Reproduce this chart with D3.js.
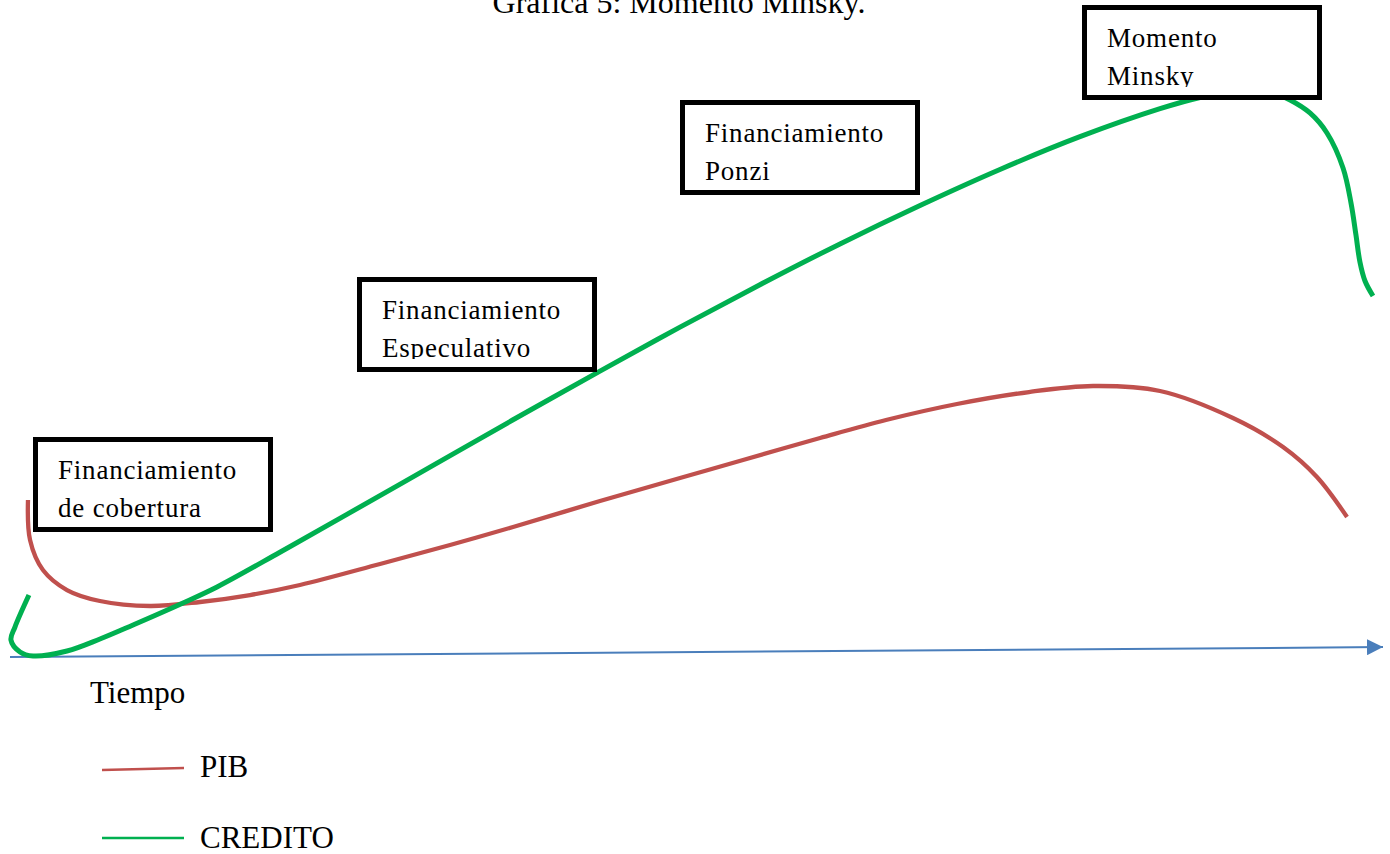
<!DOCTYPE html>
<html>
<head>
<meta charset="utf-8">
<script src="https://cdn.jsdelivr.net/npm/d3@7"></script>
<style>
  html, body { margin: 0; padding: 0; background: #ffffff; }
  svg { display: block; }
  text { font-family: "Liberation Serif", "Times New Roman", serif; fill: #000; }
</style>
</head>
<body>
<svg id="chart" width="1390" height="854"></svg>
<script>
// Time runs 0..100 along the axis; level 0..100 is an abstract index.
const creditoT = [1.38, 0.36, 0.07, 0.73, 1.68, 4.15, 6.55, 8.96, 12.60, 15.08, 19.66, 24.54, 30.59, 36.64, 42.97, 48.80, 54.62, 60.45, 66.28, 72.10, 77.93, 83.76, 86.67, 89.58, 91.77, 93.23, 94.68, 95.92, 97.09, 97.67, 98.03, 98.32, 98.69, 99.27];
const creditoV = [11.27, 5.45, 3.09, 0.91, 0.18, 1.09, 3.27, 5.82, 9.82, 12.73, 19.04, 25.93, 34.53, 43.13, 51.98, 59.98, 67.69, 75.11, 82.09, 88.64, 94.60, 99.69, 101.73, 102.96, 102.73, 101.27, 98.91, 95.27, 88.91, 82.55, 76.73, 71.82, 68.36, 65.64];

const pibT = [1.31, 1.46, 2.40, 4.15, 6.55, 10.20, 13.84, 17.48, 21.12, 26.95, 32.05, 36.64, 42.97, 48.80, 53.39, 59.00, 63.80, 68.97, 74.22, 78.88, 83.76, 89.07, 92.72, 95.19, 97.38];
const pibV = [28.55, 21.27, 15.82, 12.18, 10.18, 9.27, 10.00, 11.27, 13.09, 16.91, 20.36, 23.64, 28.36, 32.55, 35.82, 39.82, 43.09, 46.00, 48.18, 49.27, 48.36, 43.45, 38.18, 32.73, 25.45];

// Time axis: starts at the origin and rises very slightly to the arrow tip
const axisT = [0, 100];
const axisV = [0, 1.8];

// Stage labels (two lines each)
const stageLines = [
  ["Financiamiento", "de cobertura"],
  ["Financiamiento", "Especulativo"],
  ["Financiamiento", "Ponzi"],
  ["Momento", "Minsky"]
];

const seriesNames = ["PIB", "CREDITO"];
const seriesColors = ["#C0504D", "#00B050"];
const axisLabel = "Tiempo";
const titleText = "Gráfica 5: Momento Minsky.";

// ---- layout ----
const svg = d3.select("#chart");

const x = d3.scaleLinear().domain([0, 100]).range([10, 1383]);
const y = d3.scaleLinear().domain([0, 100]).range([657, 107]);

const zip = (ts, vs) => ts.map((t, i) => ({ t, v: vs[i] }));

const line = d3.line()
  .x(d => x(d.t))
  .y(d => y(d.v))
  .curve(d3.curveCatmullRom.alpha(0.5));

// Title (sits at the very top edge of the page)
svg.append("text")
  .attr("x", 679)
  .attr("y", 13)
  .attr("text-anchor", "middle")
  .style("font-size", "32px")
  .text(titleText);

// Arrow head for the time axis
const defs = svg.append("defs");
defs.append("marker")
  .attr("id", "arrow")
  .attr("markerUnits", "userSpaceOnUse")
  .attr("viewBox", "0 0 16 16")
  .attr("refX", 16)
  .attr("refY", 8)
  .attr("markerWidth", 16)
  .attr("markerHeight", 16)
  .attr("orient", "auto")
  .append("path")
  .attr("d", "M0,0 L16,8 L0,16 Z")
  .attr("fill", "#4A7EBB");

svg.append("path")
  .datum(zip(axisT, axisV))
  .attr("d", d3.line().x(d => x(d.t)).y(d => y(d.v)))
  .attr("fill", "none")
  .attr("stroke", "#4A7EBB")
  .attr("stroke-width", 2)
  .attr("marker-end", "url(#arrow)");

// Series curves
svg.append("path")
  .datum(zip(pibT, pibV))
  .attr("d", line)
  .attr("fill", "none")
  .attr("stroke", seriesColors[0])
  .attr("stroke-width", 4.3);

svg.append("path")
  .datum(zip(creditoT, creditoV))
  .attr("d", line)
  .attr("fill", "none")
  .attr("stroke", seriesColors[1])
  .attr("stroke-width", 5);

// Stage boxes (drawn over the curves)
const boxLayout = [
  { x: 33,   y: 437 },
  { x: 357,  y: 277 },
  { x: 680,  y: 100 },
  { x: 1082, y: 5 }
];
const boxW = 240, boxH = 95, boxStroke = 5;

boxLayout.forEach((b, i) => {
  const g = svg.append("g");
  g.append("rect")
    .attr("x", b.x + boxStroke / 2)
    .attr("y", b.y + boxStroke / 2)
    .attr("width", boxW - boxStroke)
    .attr("height", boxH - boxStroke)
    .attr("fill", "#ffffff")
    .attr("stroke", "#000")
    .attr("stroke-width", boxStroke);

  // text frame clips anything below the second baseline
  const clipId = "clip" + i;
  defs.append("clipPath").attr("id", clipId)
    .append("rect")
    .attr("x", b.x + boxStroke)
    .attr("y", b.y + boxStroke)
    .attr("width", boxW - 2 * boxStroke)
    .attr("height", 41 + 38 + 3 - boxStroke);

  const tg = g.append("g").attr("clip-path", `url(#${clipId})`);
  stageLines[i].forEach((s, j) => {
    tg.append("text")
      .attr("x", b.x + 25)
      .attr("y", b.y + 41.5 + j * 38)
      .style("font-size", "27px")
      .style("letter-spacing", "0.8px")
      .text(s);
  });
});

// Axis label
svg.append("text")
  .attr("x", 90)
  .attr("y", 703)
  .style("font-size", "31px")
  .text(axisLabel);

// Legend
const legendY = [769, 838];
const legendTextY = [777, 848];
seriesNames.forEach((name, i) => {
  svg.append("line")
    .attr("x1", 102).attr("x2", 184)
    .attr("y1", legendY[i] + (i === 0 ? 1 : 0))
    .attr("y2", legendY[i] - (i === 0 ? 1 : 0))
    .attr("stroke", seriesColors[i])
    .attr("stroke-width", 2.5);
  svg.append("text")
    .attr("x", 200)
    .attr("y", legendTextY[i])
    .style("font-size", "31px")
    .text(name);
});
</script>
</body>
</html>
